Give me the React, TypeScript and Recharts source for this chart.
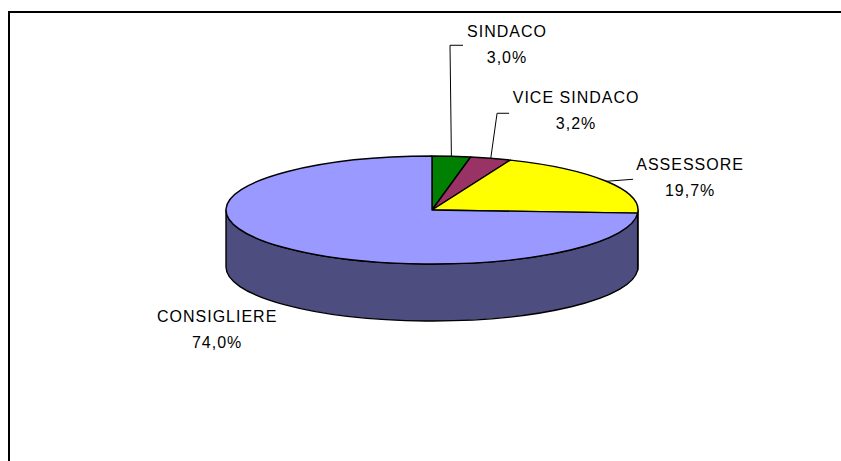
import { PieChart, Pie, Cell } from "recharts";

const CATEGORIE = ["SINDACO", "VICE SINDACO", "ASSESSORE", "CONSIGLIERE"];
const PERCENTUALI = [3.0, 3.2, 19.7, 74.0];
const COLORI = ["#008000", "#993366", "#FFFF00", "#9999FF"];

const dati = CATEGORIE.map((nome, i) => ({ nome, valore: PERCENTUALI[i] }));

const W = 841;
const H = 461;
const CX = 432;
const CY = 210;
const RX = 206;
const SCHIACCIA = 0.262; // ry / rx
const SPESSORE = 57;

// etichette: gomito / fine della linea e testo, relativi al punto sul bordo
const ETICHETTE = [
  { linea: [[-1.4, -111], [11.6, -111]], testo: [55.6, -119] },
  { linea: [[6.3, -45], [18.3, -45]], testo: [85.3, -55] },
  { linea: [[26.7, -2]], testo: [83.7, -11] },
  { linea: [], testo: [-65, 75] },
];

const RAD = Math.PI / 180;
const FONT = "'Liberation Sans', Arial, sans-serif";

function punto(cx: number, cy: number, rx: number, ry: number, a: number) {
  return [cx + rx * Math.cos(a * RAD), cy - ry * Math.sin(a * RAD)];
}

function scurisci(hex: string, f = 0.5) {
  const n = parseInt(hex.replace("#", ""), 16);
  const r = Math.round(((n >> 16) & 255) * f);
  const g = Math.round(((n >> 8) & 255) * f);
  const b = Math.round((n & 255) * f);
  return `rgb(${r},${g},${b})`;
}

function Fetta(props: any) {
  const { cx, cy, outerRadius, startAngle, endAngle, fill } = props;
  const rx = outerRadius;
  const ry = outerRadius * SCHIACCIA;
  const [x1, y1] = punto(cx, cy, rx, ry, startAngle);
  const [x2, y2] = punto(cx, cy, rx, ry, endAngle);
  const span = Math.abs(startAngle - endAngle);
  const large = span > 180 ? 1 : 0;
  const sweep = startAngle > endAngle ? 1 : 0;
  const sopra = `M${cx},${cy}L${x1},${y1}A${rx},${ry} 0 ${large} ${sweep} ${x2},${y2}Z`;

  // parte laterale visibile (metà anteriore)
  const hi = Math.max(startAngle, endAngle);
  const lo = Math.min(startAngle, endAngle);
  const lati: string[] = [];
  for (let k = -2; k <= 2; k++) {
    const s = Math.max(lo, -180 + 360 * k);
    const e = Math.min(hi, 360 * k);
    if (e - s > 0.01) {
      const [ax, ay] = punto(cx, cy, rx, ry, e);
      const [bx, by] = punto(cx, cy, rx, ry, s);
      lati.push(
        `M${ax},${ay}A${rx},${ry} 0 0 1 ${bx},${by}L${bx},${by + SPESSORE}A${rx},${ry} 0 0 0 ${ax},${ay + SPESSORE}Z`
      );
    }
  }

  return (
    <g>
      {lati.map((d, i) => (
        <path key={i} d={d} fill={scurisci(fill)} stroke="#000" strokeWidth={1.4} strokeLinejoin="round" />
      ))}
      <path d={sopra} fill={fill} stroke="#000" strokeWidth={1.4} strokeLinejoin="round" />
    </g>
  );
}

function Etichetta(props: any) {
  const { cx, cy, outerRadius, midAngle, index, name, value } = props;
  const [px, py] = punto(cx, cy, outerRadius, outerRadius * SCHIACCIA, midAngle);
  const lay = ETICHETTE[index];
  const punti = [[px, py], ...lay.linea.map(([dx, dy]) => [px + dx, py + dy])];
  const tx = px + lay.testo[0];
  const ty = py + lay.testo[1];
  return (
    <g>
      {punti.length > 1 && (
        <polyline points={punti.map((p) => p.join(",")).join(" ")} fill="none" stroke="#000" strokeWidth={1} />
      )}
      <text x={tx} y={ty} textAnchor="middle" fontFamily={FONT} fontSize={16} letterSpacing={1} fill="#000">
        {name}
      </text>
      <text x={tx} y={ty + 26} textAnchor="middle" fontFamily={FONT} fontSize={16} letterSpacing={1} fill="#000">
        {`${Number(value).toFixed(1).replace(".", ",")}%`}
      </text>
    </g>
  );
}

export default function App() {
  return (
    <div style={{ position: "absolute", left: 0, top: 0, width: W, height: H, overflow: "hidden", background: "#fff" }}>
      <div
        style={{
          position: "absolute",
          left: 8.3,
          top: 11,
          width: 900,
          height: 500,
          borderTop: "2.5px solid #000",
          borderLeft: "2.5px solid #000",
        }}
      />
      <div style={{ position: "absolute", left: 0, top: 0 }}>
        <PieChart width={W} height={H} margin={{ top: 0, right: 0, bottom: 0, left: 0 }}>
          <Pie
            data={dati}
            dataKey="valore"
            nameKey="nome"
            cx={CX}
            cy={CY}
            outerRadius={RX}
            startAngle={90}
            endAngle={-270}
            stroke="#000"
            isAnimationActive={false}
            labelLine={false}
            label={Etichetta}
            shape={Fetta}
            activeShape={Fetta}
            inactiveShape={Fetta}
          >
            {dati.map((d, i) => (
              <Cell key={d.nome} fill={COLORI[i]} />
            ))}
          </Pie>
        </PieChart>
      </div>
    </div>
  );
}
